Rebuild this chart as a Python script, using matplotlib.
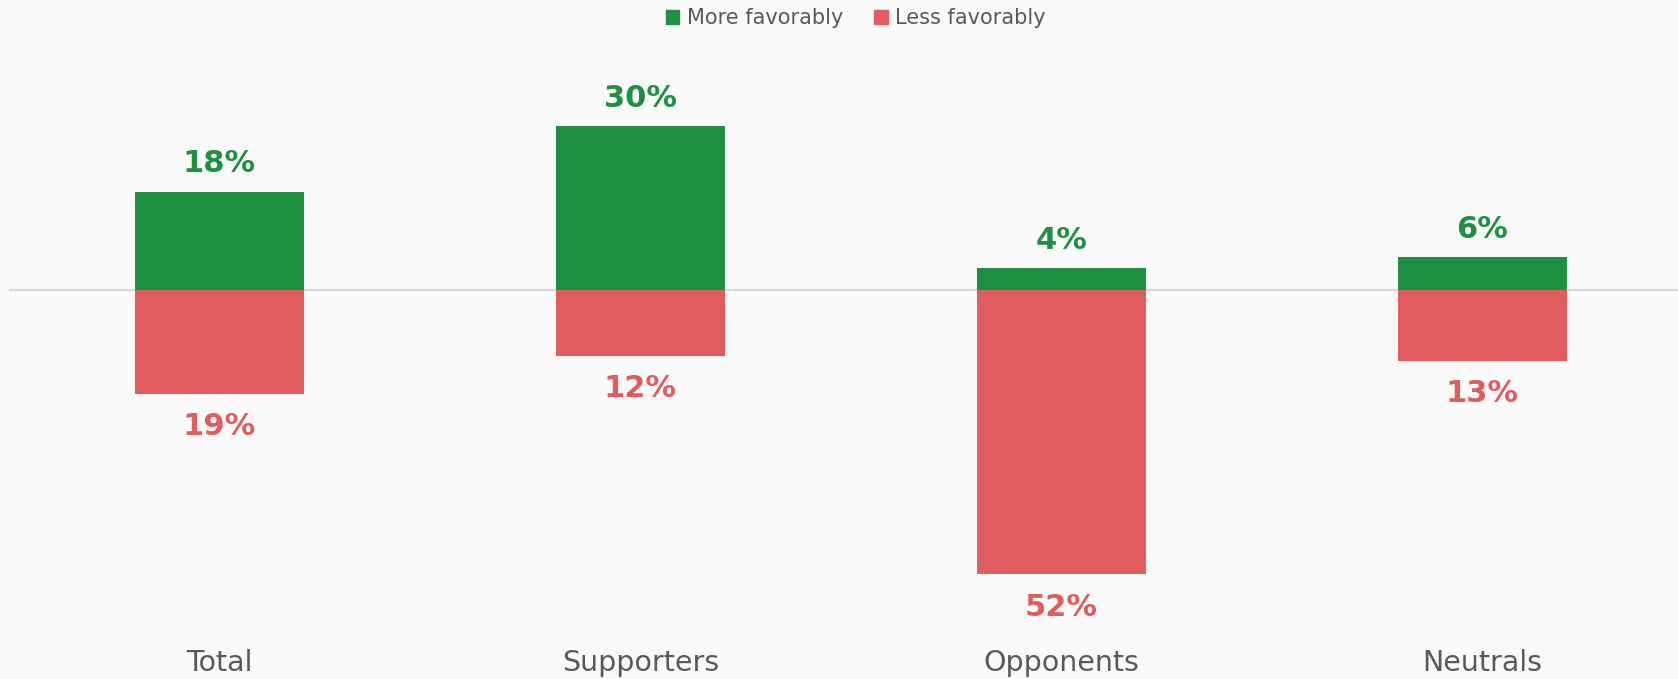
import numpy as np
import matplotlib
matplotlib.use('Agg')
import matplotlib.pyplot as plt
from matplotlib.patches import Patch

categories = ['Total', 'Supporters', 'Opponents', 'Neutrals']
more_fav = [18, 30, 4, 6]
less_fav = [19, 12, 52, 13]

green = '#1e9040'
red = '#e05c5d'
bg = '#fafafa'

plt.rcParams['font.family'] = ['Verdana', 'DejaVu Sans']

fig = plt.figure(figsize=(16.78, 6.79), dpi=100, facecolor=bg)
# axes placed so zero line sits ~290px from top
ax = fig.add_axes([9/1678, 79/679, 1669/1678, 560/679], facecolor=bg)
x = np.arange(len(categories))
ax.bar(x, more_fav, width=0.4, color=green)
ax.bar(x, [-v for v in less_fav], width=0.4, color=red)
ax.axhline(0, color='#d9d9d9', lw=1.5, zorder=0.5)

for xi, v in zip(x, more_fav):
    ax.text(xi, v + 5.1, f'{v}%', ha='center', va='center', color=green,
            fontsize=22, fontweight='bold')
for xi, v in zip(x, less_fav):
    ax.text(xi, -v - 6.0, f'{v}%', ha='center', va='center', color=red,
            fontsize=22, fontweight='bold')

ax.set_xlim(-0.5, -0.5 + 1669/421)
ax.set_ylim(-(600-290)/5.47, (290-40)/5.47)
ax.set_xticks(x)
ax.set_xticklabels(categories, fontsize=20.5, color='#595959')
ax.tick_params(axis='x', length=0, pad=35)
ax.set_yticks([])
for s in ax.spines.values():
    s.set_visible(False)

handles = [Patch(color=green, label='More favorably'), Patch(color=red, label='Less favorably')]
fig.legend(handles=handles, loc='center', bbox_to_anchor=(0.51, 1 - 18/679), ncol=2,
           frameon=False, fontsize=15, labelcolor='#595959', handlelength=0.65,
           handleheight=0.65, handletextpad=0.35, columnspacing=1.5)

fig.savefig('out.png', dpi=100, facecolor=bg)
